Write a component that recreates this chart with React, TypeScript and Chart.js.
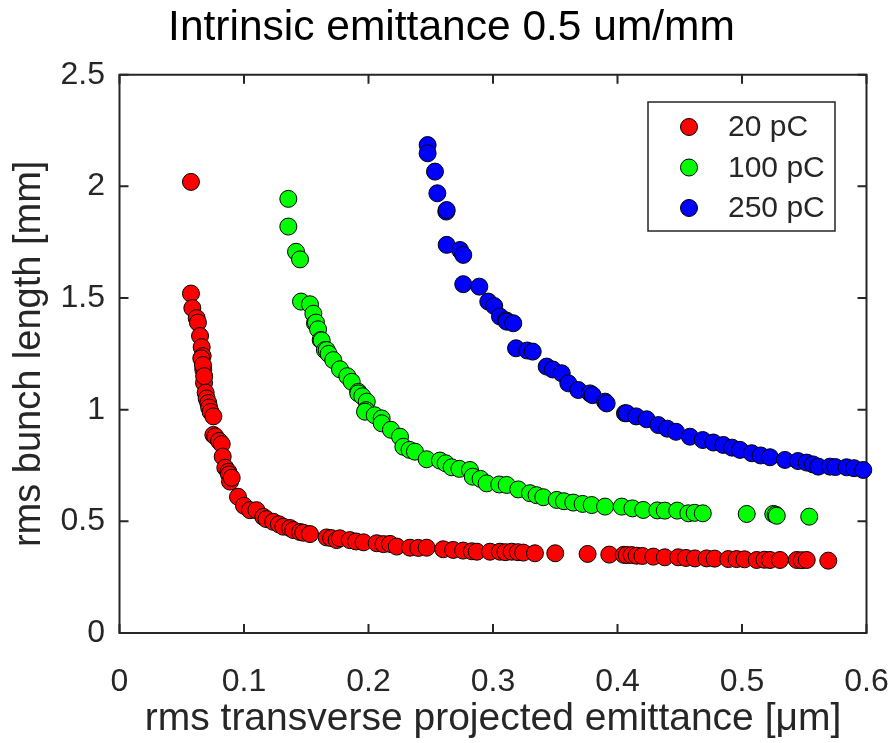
import React, { useEffect, useRef } from 'react';
import { Chart, registerables } from 'chart.js';
Chart.register(...registerables);

const titleText = 'Intrinsic emittance 0.5 um/mm';
const xAxisTitle = 'rms transverse projected emittance [μm]';
const yAxisTitle = 'rms bunch length [mm]';

const seriesLabels = ['20 pC', '100 pC', '250 pC'];
const seriesColors = ['#ff0000', '#00ff00', '#0000ff'];

const redX = [0.0574, 0.0574, 0.0585, 0.062, 0.063, 0.0647, 0.066, 0.0668, 0.0657, 0.0673, 0.067, 0.0679, 0.068, 0.0692, 0.07, 0.0713, 0.072, 0.0732, 0.0754, 0.0754, 0.077, 0.08, 0.0821, 0.0829, 0.085, 0.0874, 0.088, 0.0888, 0.0901, 0.0952, 0.1, 0.1048, 0.11, 0.1155, 0.118, 0.1235, 0.128, 0.1316, 0.137, 0.1396, 0.145, 0.1476, 0.153, 0.1664, 0.17, 0.1745, 0.177, 0.185, 0.19, 0.196, 0.2066, 0.212, 0.2173, 0.2227, 0.2333, 0.24, 0.2467, 0.26, 0.268, 0.276, 0.283, 0.287, 0.2976, 0.3056, 0.31, 0.315, 0.32, 0.3243, 0.3337, 0.35, 0.376, 0.3934, 0.405, 0.4074, 0.4114, 0.4154, 0.42, 0.4288, 0.438, 0.4488, 0.455, 0.4622, 0.4716, 0.478, 0.489, 0.4957, 0.502, 0.5118, 0.518, 0.5225, 0.5305, 0.544, 0.548, 0.552, 0.5693];
const redY = [2.02, 1.52, 1.455, 1.41, 1.39, 1.33, 1.28, 1.24, 1.23, 1.18, 1.2, 1.12, 1.15, 1.076, 1.05, 1.03, 1.01, 0.99, 0.97, 0.887, 0.88, 0.86, 0.846, 0.79, 0.74, 0.722, 0.71, 0.678, 0.695, 0.61, 0.57, 0.55, 0.55, 0.52, 0.51, 0.498, 0.487, 0.476, 0.47, 0.461, 0.452, 0.449, 0.443, 0.428, 0.425, 0.416, 0.424, 0.416, 0.41, 0.406, 0.402, 0.398, 0.399, 0.387, 0.382, 0.381, 0.382, 0.375, 0.372, 0.369, 0.366, 0.364, 0.364, 0.364, 0.362, 0.364, 0.362, 0.36, 0.357, 0.357, 0.354, 0.351, 0.35, 0.349, 0.349, 0.346, 0.345, 0.342, 0.339, 0.339, 0.336, 0.334, 0.334, 0.333, 0.331, 0.331, 0.33, 0.327, 0.328, 0.327, 0.327, 0.327, 0.326, 0.327, 0.324];

const greenX = [0.1356, 0.1356, 0.1418, 0.145, 0.1458, 0.153, 0.1557, 0.157, 0.1578, 0.1595, 0.1616, 0.1624, 0.165, 0.1664, 0.168, 0.1717, 0.1771, 0.183, 0.1865, 0.1918, 0.1918, 0.195, 0.1986, 0.198, 0.1972, 0.205, 0.2106, 0.2106, 0.218, 0.2253, 0.228, 0.233, 0.2373, 0.2467, 0.2574, 0.262, 0.2668, 0.273, 0.2815, 0.2837, 0.29, 0.2949, 0.305, 0.311, 0.3203, 0.3297, 0.335, 0.3404, 0.3512, 0.357, 0.3645, 0.372, 0.3793, 0.39, 0.4034, 0.412, 0.4207, 0.432, 0.438, 0.448, 0.4569, 0.462, 0.4685, 0.5038, 0.5251, 0.527, 0.5279, 0.554];
const greenY = [1.944, 1.82, 1.707, 1.673, 1.484, 1.472, 1.43, 1.387, 1.39, 1.36, 1.312, 1.31, 1.267, 1.267, 1.25, 1.222, 1.181, 1.15, 1.125, 1.08, 1.073, 1.06, 1.036, 0.998, 0.991, 0.975, 0.961, 0.939, 0.91, 0.879, 0.834, 0.82, 0.812, 0.778, 0.772, 0.76, 0.742, 0.735, 0.73, 0.7, 0.69, 0.67, 0.665, 0.663, 0.643, 0.626, 0.617, 0.608, 0.596, 0.59, 0.584, 0.578, 0.573, 0.566, 0.566, 0.558, 0.551, 0.549, 0.548, 0.548, 0.536, 0.538, 0.536, 0.533, 0.533, 0.53, 0.525, 0.521];

const blueX = [0.2475, 0.2475, 0.2534, 0.2553, 0.2625, 0.2628, 0.2628, 0.2735, 0.2761, 0.2761, 0.289, 0.2962, 0.301, 0.3056, 0.3105, 0.311, 0.3163, 0.3185, 0.3275, 0.3319, 0.3431, 0.348, 0.3552, 0.3605, 0.3685, 0.3779, 0.38, 0.39, 0.3913, 0.406, 0.4074, 0.415, 0.4234, 0.4328, 0.44, 0.447, 0.4582, 0.4685, 0.477, 0.485, 0.492, 0.4984, 0.5078, 0.515, 0.5225, 0.5345, 0.545, 0.552, 0.557, 0.5613, 0.5707, 0.575, 0.584, 0.59, 0.5974];
const blueY = [2.185, 2.148, 2.066, 1.969, 1.887, 1.894, 1.738, 1.715, 1.693, 1.562, 1.551, 1.484, 1.464, 1.417, 1.4, 1.394, 1.387, 1.275, 1.265, 1.26, 1.193, 1.18, 1.163, 1.118, 1.088, 1.073, 1.065, 1.036, 1.028, 0.984, 0.984, 0.97, 0.957, 0.931, 0.915, 0.901, 0.879, 0.864, 0.853, 0.842, 0.83, 0.82, 0.805, 0.795, 0.787, 0.775, 0.77, 0.763, 0.755, 0.745, 0.745, 0.743, 0.742, 0.738, 0.73];

const xTicks = [0, 0.1, 0.2, 0.3, 0.4, 0.5, 0.6];
const xTickLabels = ['0', '0.1', '0.2', '0.3', '0.4', '0.5', '0.6'];
const yTicks = [0, 0.5, 1, 1.5, 2, 2.5];
const yTickLabels = ['0', '0.5', '1', '1.5', '2', '2.5'];

const FONT = '"Liberation Sans", Arial, Helvetica, sans-serif';
const AXIS_COLOR = '#262626';

const toPoints = (xs: number[], ys: number[]) => xs.map((x, i) => ({ x, y: ys[i] }));

const boxPlugin = {
  id: 'boxPlugin',
  beforeDatasetsDraw(chart: any) {
    const { ctx, chartArea: a, scales } = chart;
    const tl = 9;
    ctx.save();
    ctx.strokeStyle = AXIS_COLOR;
    ctx.lineWidth = 2;
    ctx.beginPath();
    ctx.rect(a.left, a.top, a.right - a.left, a.bottom - a.top);
    ctx.stroke();
    ctx.beginPath();
    xTicks.forEach((v) => {
      const px = scales.x.getPixelForValue(v);
      ctx.moveTo(px, a.bottom);
      ctx.lineTo(px, a.bottom - tl);
      ctx.moveTo(px, a.top);
      ctx.lineTo(px, a.top + tl);
    });
    yTicks.forEach((v) => {
      const py = scales.y.getPixelForValue(v);
      ctx.moveTo(a.left, py);
      ctx.lineTo(a.left + tl, py);
      ctx.moveTo(a.right, py);
      ctx.lineTo(a.right - tl, py);
    });
    ctx.stroke();
    ctx.restore();
  },
};

const overlayPlugin = {
  id: 'overlayPlugin',
  afterDraw(chart: any) {
    const { ctx } = chart;
    ctx.save();
    // title
    ctx.fillStyle = '#000';
    ctx.font = `42.5px ${FONT}`;
    ctx.textAlign = 'center';
    ctx.textBaseline = 'middle';
    ctx.fillText(titleText, 451.5, 27.8);
    // legend
    const lx = 648, ly = 102, lw = 187, lh = 129;
    ctx.fillStyle = '#fff';
    ctx.fillRect(lx, ly, lw, lh);
    ctx.strokeStyle = AXIS_COLOR;
    ctx.lineWidth = 1.5;
    ctx.strokeRect(lx, ly, lw, lh);
    ctx.font = `30px ${FONT}`;
    ctx.textAlign = 'left';
    seriesLabels.forEach((lab, i) => {
      const cy = 127 + i * 40.5;
      ctx.beginPath();
      ctx.arc(689, cy, 8.5, 0, Math.PI * 2);
      ctx.fillStyle = seriesColors[i];
      ctx.fill();
      ctx.lineWidth = 1;
      ctx.strokeStyle = '#000';
      ctx.stroke();
      ctx.fillStyle = AXIS_COLOR;
      ctx.fillText(lab, 728, cy + 1);
    });
    ctx.restore();
  },
};

export default function App() {
  const ref = useRef<HTMLCanvasElement | null>(null);
  useEffect(() => {
    if (!ref.current) return;
    const mk = (label: string, color: string, xs: number[], ys: number[]) => ({
      label,
      data: toPoints(xs, ys),
      backgroundColor: color,
      borderColor: '#000',
      pointRadius: 8.5,
      pointBorderWidth: 1,
      pointHoverRadius: 8.5,
      showLine: false,
      clip: false as any,
    });
    const chart = new Chart(ref.current, {
      type: 'scatter',
      data: {
        datasets: [
          mk(seriesLabels[0], seriesColors[0], redX, redY),
          mk(seriesLabels[1], seriesColors[1], greenX, greenY),
          mk(seriesLabels[2], seriesColors[2], blueX, blueY),
        ],
      },
      options: {
        animation: false,
        responsive: false,
        devicePixelRatio: 1,
        layout: { padding: { top: 74.7, right: 27.5, left: 0, bottom: 0 } },
        plugins: {
          legend: { display: false },
          tooltip: { enabled: false },
          title: { display: false },
        },
        scales: {
          x: {
            type: 'linear',
            min: 0,
            max: 0.6,
            grid: { display: false, drawTicks: false },
            border: { display: false },
            afterBuildTicks: (s: any) => { s.ticks = xTicks.map((v) => ({ value: v })); },
            afterFit: (s: any) => { s.height = 110; s.paddingLeft = 0; s.paddingRight = 0; },
            ticks: {
              padding: 30,
              color: AXIS_COLOR,
              font: { family: FONT, size: 32 },
              maxRotation: 0,
              autoSkip: false,
              callback: (_v: any, i: number) => xTickLabels[i],
            },
            title: {
              display: true,
              text: xAxisTitle,
              color: AXIS_COLOR,
              font: { family: FONT, size: 39 },
              padding: { top: 3, bottom: 0 },
            },
          },
          y: {
            type: 'linear',
            min: 0,
            max: 2.5,
            grid: { display: false, drawTicks: false },
            border: { display: false },
            afterBuildTicks: (s: any) => { s.ticks = yTicks.map((v) => ({ value: v })); },
            afterFit: (s: any) => { s.width = 119.5; s.paddingTop = 0; s.paddingBottom = 0; },
            ticks: {
              padding: 14.5,
              color: AXIS_COLOR,
              font: { family: FONT, size: 32 },
              autoSkip: false,
              callback: (_v: any, i: number) => yTickLabels[i],
            },
            title: {
              display: true,
              text: yAxisTitle,
              color: AXIS_COLOR,
              font: { family: FONT, size: 38 },
              padding: { top: 7, bottom: 0 },
            },
          },
        },
      },
      plugins: [boxPlugin, overlayPlugin],
    });
    return () => chart.destroy();
  }, []);
  return (
    <div style={{ position: 'absolute', left: 0, top: 0, width: 894, height: 743, background: '#fff' }}>
      <canvas ref={ref} width={894} height={743} style={{ width: 894, height: 743, display: 'block' }} />
    </div>
  );
}
